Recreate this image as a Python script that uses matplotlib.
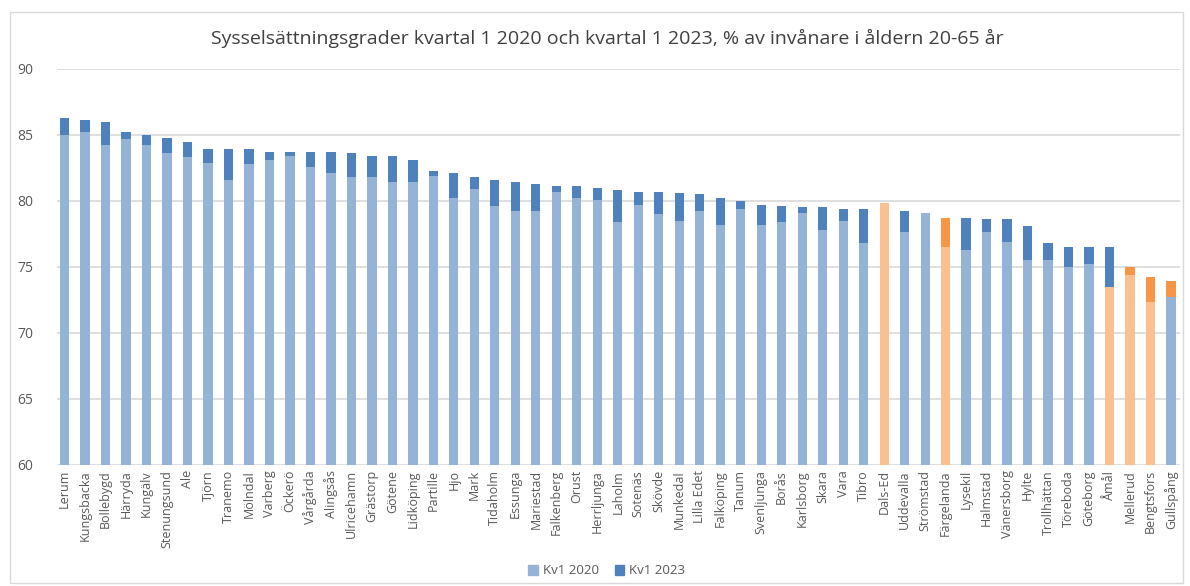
import matplotlib.pyplot as plt
from matplotlib.patches import Rectangle, Patch
import numpy as np

# Kommuner, sorterade efter värdet kvartal 1 2023
kommuner = ['Lerum', 'Kungsbacka', 'Bollebygd', 'Härryda', 'Kungälv', 'Stenungsund', 'Ale',
            'Tjörn', 'Tranemo', 'Mölndal', 'Varberg', 'Öckerö', 'Vårgårda', 'Alingsås',
            'Ulricehamn', 'Grästorp', 'Götene', 'Lidköping', 'Partille', 'Hjo', 'Mark',
            'Tidaholm', 'Essunga', 'Mariestad', 'Falkenberg', 'Orust', 'Herrljunga', 'Laholm',
            'Sotenäs', 'Skövde', 'Munkedal', 'Lilla Edet', 'Falköping', 'Tanum', 'Svenljunga',
            'Borås', 'Karlsborg', 'Skara', 'Vara', 'Tibro', 'Dals-Ed', 'Uddevalla', 'Strömstad',
            'Färgelanda', 'Lysekil', 'Halmstad', 'Vänersborg', 'Hylte', 'Trollhättan',
            'Töreboda', 'Göteborg', 'Åmål', 'Mellerud', 'Bengtsfors', 'Gullspång']

kv1_2020 = [85.0, 85.2, 84.2, 84.7, 84.2, 83.6, 83.3, 82.9, 81.6, 82.8, 83.1, 83.4, 82.6, 82.1,
            81.8, 81.8, 81.4, 81.4, 81.9, 80.2, 80.9, 79.6, 79.2, 79.2, 80.7, 80.2, 80.1, 78.4,
            79.7, 79.0, 78.5, 79.2, 78.2, 79.4, 78.2, 78.4, 79.1, 77.8, 78.5, 76.8, 79.8, 77.6,
            79.1, 76.5, 76.3, 77.6, 76.9, 75.5, 75.5, 75.0, 75.2, 73.5, 74.4, 72.3, 72.7]

# Kv1 2023 (samma som 2020 där ingen ökning syns)
kv1_2023 = [86.3, 86.1, 86.0, 85.2, 85.0, 84.8, 84.5, 83.9, 83.9, 83.9, 83.7, 83.7, 83.7, 83.7,
            83.6, 83.4, 83.4, 83.1, 82.3, 82.1, 81.8, 81.6, 81.4, 81.3, 81.1, 81.1, 81.0, 80.8,
            80.7, 80.7, 80.6, 80.5, 80.2, 80.0, 79.7, 79.6, 79.5, 79.5, 79.4, 79.4, 79.8, 79.2,
            79.1, 78.7, 78.7, 78.6, 78.6, 78.1, 76.8, 76.5, 76.5, 76.5, 75.0, 74.2, 73.9]

# Markerade kommuner (orange) per stapeldel
orange_2020 = ['Dals-Ed', 'Färgelanda', 'Åmål', 'Mellerud', 'Bengtsfors']
orange_2023 = ['Färgelanda', 'Mellerud', 'Bengtsfors', 'Gullspång']

titel = 'Sysselsättningsgrader kvartal 1 2020 och kvartal 1 2023, % av invånare i åldern 20-65 år'

plt.rcParams['font.family'] = ['Open Sans', 'DejaVu Sans']

LJUSBLA = '#95B3D7'
MORKBLA = '#4F81BD'
LJUSORANGE = '#FAC090'
MORKORANGE = '#F79646'
GRA = '#595959'

x = np.arange(len(kommuner))
bas = np.array(kv1_2020)
okning = np.clip(np.array(kv1_2023) - bas, 0, None)

farg_bas = [LJUSORANGE if k in orange_2020 else LJUSBLA for k in kommuner]
farg_topp = [MORKORANGE if k in orange_2023 else MORKBLA for k in kommuner]

fig = plt.figure(figsize=(11.9, 5.86), dpi=100)
ax = fig.add_axes([57 / 1190, 1 - 464.5 / 586, (1180 - 57) / 1190, (464.5 - 69) / 586])

# ram runt diagrammet
fig.patches.append(Rectangle((10 / 1190, 3 / 586), 1173 / 1190, 571 / 586,
                             transform=fig.transFigure, fill=False,
                             edgecolor='#D9D9D9', linewidth=1))

ax.bar(x, bas - 60, bottom=60, width=0.45, color=farg_bas, linewidth=0, zorder=3)
ax.bar(x, okning, bottom=bas, width=0.45, color=farg_topp, linewidth=0, zorder=3)

ax.set_ylim(60, 90)
ax.set_xlim(-0.37, 54.44)
ax.set_yticks(range(60, 91, 5))
ax.yaxis.grid(True, color='#D9D9D9', linewidth=1.2, zorder=0)
ax.set_axisbelow(True)
for s in ax.spines.values():
    s.set_visible(False)
ax.tick_params(axis='y', length=0, pad=17, labelsize=10, labelcolor=GRA)
ax.tick_params(axis='x', length=0, pad=4, labelsize=9, labelcolor=GRA)
ax.set_xticks(x)
ax.set_xticklabels(kommuner, rotation=90)

fig.text(0.51, 1 - 38 / 586, titel, ha='center', va='center', fontsize=14, color='#404040')

handles = [Patch(color=LJUSBLA, label='Kv1 2020'), Patch(color=MORKBLA, label='Kv1 2023')]
fig.legend(handles=handles, loc='center', bbox_to_anchor=(0.51, 1 - 571 / 586), ncol=2,
           frameon=False, fontsize=9.5, labelcolor=GRA, handlelength=0.7, handleheight=0.7,
           handletextpad=0.4, columnspacing=1.2)

fig.savefig('out.png', dpi=100)
